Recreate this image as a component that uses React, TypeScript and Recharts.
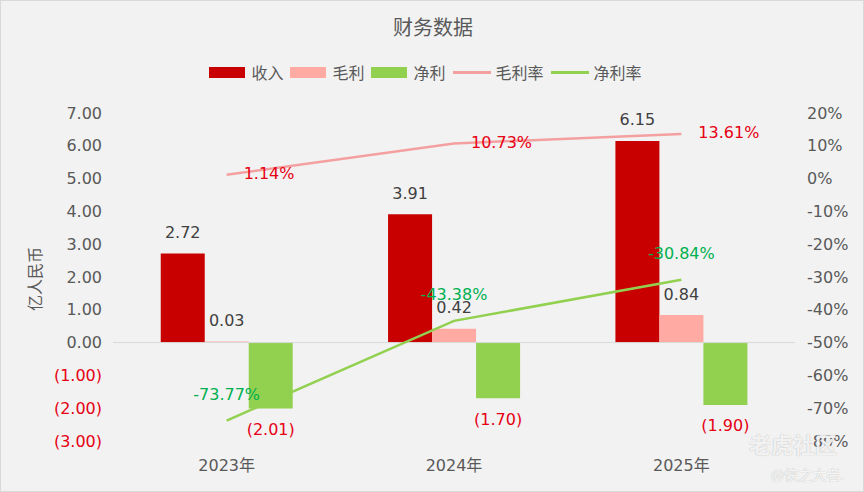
import React from 'react';
import { ComposedChart, Bar, Line, XAxis, YAxis, ReferenceLine, LabelList } from 'recharts';

const years = ['2023年', '2024年', '2025年'];
const revenue = [2.72, 3.91, 6.15];
const grossProfit = [0.03, 0.42, 0.84];
const netProfit = [-2.01, -1.7, -1.9];
const grossMargin = [1.14, 10.73, 13.61];
const netMargin = [-73.77, -43.38, -30.84];

const leftTicks = [-3, -2, -1, 0, 1, 2, 3, 4, 5, 6, 7];
const rightTicks = [-80, -70, -60, -50, -40, -30, -20, -10, 0, 10, 20];

const data = years.map((year, i) => ({
  year,
  revenue: revenue[i],
  grossProfit: grossProfit[i],
  netProfit: netProfit[i],
  grossMargin: grossMargin[i],
  netMargin: netMargin[i],
}));

const FONT = '"Noto Sans CJK SC", "Noto Sans", sans-serif';
const NUM_FONT = '"DejaVu Sans", "Noto Sans CJK SC", sans-serif';
const C_REV = '#C80000';
const C_GROSS = '#FFAAA3';
const C_NET = '#92D050';
const C_GLINE = '#F5A0A0';
const C_NLINE = '#92D050';
const RED = '#E60012';
const GREEN = '#00B050';
const TICK = '#595959';
const LABEL = '#404040';

const fmtMoney = (v: number) => (v < 0 ? `(${Math.abs(v).toFixed(2)})` : v.toFixed(2));

const LeftTick = (props: any) => {
  const { x, y, payload } = props;
  const v = payload.value as number;
  return (
    <text x={x} y={y} textAnchor="end" dominantBaseline="central" fontSize={16} fontFamily={NUM_FONT} fill={v < 0 ? RED : TICK}>
      {fmtMoney(v)}
    </text>
  );
};

const RightTick = (props: any) => {
  const { x, y, payload } = props;
  return (
    <text x={x} y={y} textAnchor="start" dominantBaseline="central" fontSize={16} fontFamily={NUM_FONT} fill={TICK}>
      {`${payload.value}%`}
    </text>
  );
};

const XTick = (props: any) => {
  const { x, y, payload } = props;
  return (
    <text x={x} y={y + 24} textAnchor="middle" dominantBaseline="central" fontSize={16} fontFamily={NUM_FONT} fill={TICK}>
      {payload.value}
    </text>
  );
};

const barLabel = (color: string) => (props: any) => {
  const { x, y, width, height, value } = props;
  const top = Math.min(y, y + height);
  const bottom = Math.max(y, y + height);
  const v = value as number;
  const cy = v < 0 ? bottom + 21 : top - 21;
  return (
    <text x={x + width / 2} y={cy} textAnchor="middle" dominantBaseline="central" fontSize={16} fontFamily={NUM_FONT} fill={v < 0 ? RED : color}>
      {fmtMoney(v)}
    </text>
  );
};

const grossLabel = (props: any) => {
  const { x, y, value } = props;
  return (
    <text x={x + 17} y={y - 1} textAnchor="start" dominantBaseline="central" fontSize={16} fontFamily={NUM_FONT} fill={RED}>
      {`${(value as number).toFixed(2)}%`}
    </text>
  );
};

const netLabel = (props: any) => {
  const { x, y, value } = props;
  return (
    <text x={x} y={y - 26} textAnchor="middle" dominantBaseline="central" fontSize={16} fontFamily={NUM_FONT} fill={GREEN}>
      {`${(value as number).toFixed(2)}%`}
    </text>
  );
};

const legendItems = [
  { name: '收入', color: C_REV, type: 'rect' },
  { name: '毛利', color: C_GROSS, type: 'rect' },
  { name: '净利', color: C_NET, type: 'rect' },
  { name: '毛利率', color: C_GLINE, type: 'line' },
  { name: '净利率', color: C_NLINE, type: 'line' },
];

export default function App() {
  return (
    <div
      style={{
        position: 'absolute',
        left: 0,
        top: 0,
        width: 864,
        height: 492,
        background: '#F2F2F2',
        boxSizing: 'border-box',
        border: '1px solid #D9D9D9',
        fontFamily: FONT,
        overflow: 'hidden',
      }}
    >
      <div
        style={{
          position: 'absolute',
          left: 0,
          top: 13,
          width: 864,
          textAlign: 'center',
          fontSize: 20,
          lineHeight: '26px',
          color: TICK,
        }}
      >
        财务数据
      </div>
      <div
        style={{
          position: 'absolute',
          left: -4,
          top: 60,
          width: 864,
          height: 22,
          display: 'flex',
          justifyContent: 'center',
          alignItems: 'center',
          fontSize: 16,
          color: TICK,
        }}
      >
        {legendItems.map((it) => (
          <div key={it.name} style={{ display: 'flex', alignItems: 'center', marginRight: 7 }}>
            {it.type === 'rect' ? (
              <div style={{ width: 36, height: 11, background: it.color, marginRight: 6 }} />
            ) : (
              <div style={{ width: 38, height: 3, background: it.color, marginRight: 5 }} />
            )}
            <span style={{ lineHeight: '22px' }}>{it.name}</span>
          </div>
        ))}
      </div>
      <div
        style={{
          position: 'absolute',
          left: 33,
          top: 278,
          transform: 'translate(-50%, -50%) rotate(-90deg)',
          fontSize: 16,
          color: TICK,
          whiteSpace: 'nowrap',
        }}
      >
        亿人民币
      </div>
      <div style={{ position: 'absolute', left: -1, top: -1 }}>
        <ComposedChart
          width={864}
          height={492}
          data={data}
          margin={{ top: 113, right: 0, bottom: 0, left: 0 }}
          barCategoryGap="21%"
          barGap={0}
        >
          <XAxis dataKey="year" height={51} axisLine={false} tickLine={false} tickSize={0} tickMargin={0} tick={<XTick />} />
          <YAxis
            yAxisId="left"
            width={113}
            domain={[-3, 7]}
            ticks={leftTicks}
            axisLine={false}
            tickLine={false}
            tickSize={0}
            tickMargin={11}
            tick={<LeftTick />}
            allowDataOverflow
          />
          <YAxis
            yAxisId="right"
            orientation="right"
            width={69}
            domain={[-80, 20]}
            ticks={rightTicks}
            axisLine={false}
            tickLine={false}
            tickSize={0}
            tickMargin={12}
            tick={<RightTick />}
            allowDataOverflow
          />
          <ReferenceLine yAxisId="left" y={0} stroke="#D9D9D9" strokeWidth={1} />
          <Bar yAxisId="left" dataKey="revenue" name="收入" fill={C_REV} isAnimationActive={false}>
            <LabelList dataKey="revenue" content={barLabel(LABEL)} />
          </Bar>
          <Bar yAxisId="left" dataKey="grossProfit" name="毛利" fill={C_GROSS} isAnimationActive={false}>
            <LabelList dataKey="grossProfit" content={barLabel(LABEL)} />
          </Bar>
          <Bar yAxisId="left" dataKey="netProfit" name="净利" fill={C_NET} isAnimationActive={false}>
            <LabelList dataKey="netProfit" content={barLabel(LABEL)} />
          </Bar>
          <Line
            yAxisId="right"
            type="linear"
            dataKey="grossMargin"
            name="毛利率"
            stroke={C_GLINE}
            strokeWidth={2.5}
            dot={false}
            activeDot={false}
            isAnimationActive={false}
          >
            <LabelList dataKey="grossMargin" content={grossLabel} />
          </Line>
          <Line
            yAxisId="right"
            type="linear"
            dataKey="netMargin"
            name="净利率"
            stroke={C_NLINE}
            strokeWidth={2.5}
            dot={false}
            activeDot={false}
            isAnimationActive={false}
          >
            <LabelList dataKey="netMargin" content={netLabel} />
          </Line>
        </ComposedChart>
      </div>
      <div
        style={{
          position: 'absolute',
          left: 748,
          top: 426,
          fontSize: 22,
          fontWeight: 700,
          color: 'rgba(255,255,255,0.85)',
          textShadow: '0 0 1px rgba(120,120,120,0.6)',
          whiteSpace: 'nowrap',
        }}
      >
        老虎社区
      </div>
      <div
        style={{
          position: 'absolute',
          left: 770,
          top: 463,
          fontSize: 14,
          color: 'rgba(255,255,255,0.9)',
          textShadow: '0 0 1px rgba(120,120,120,0.6)',
          whiteSpace: 'nowrap',
        }}
      >
        @侠之大者.
      </div>
    </div>
  );
}
